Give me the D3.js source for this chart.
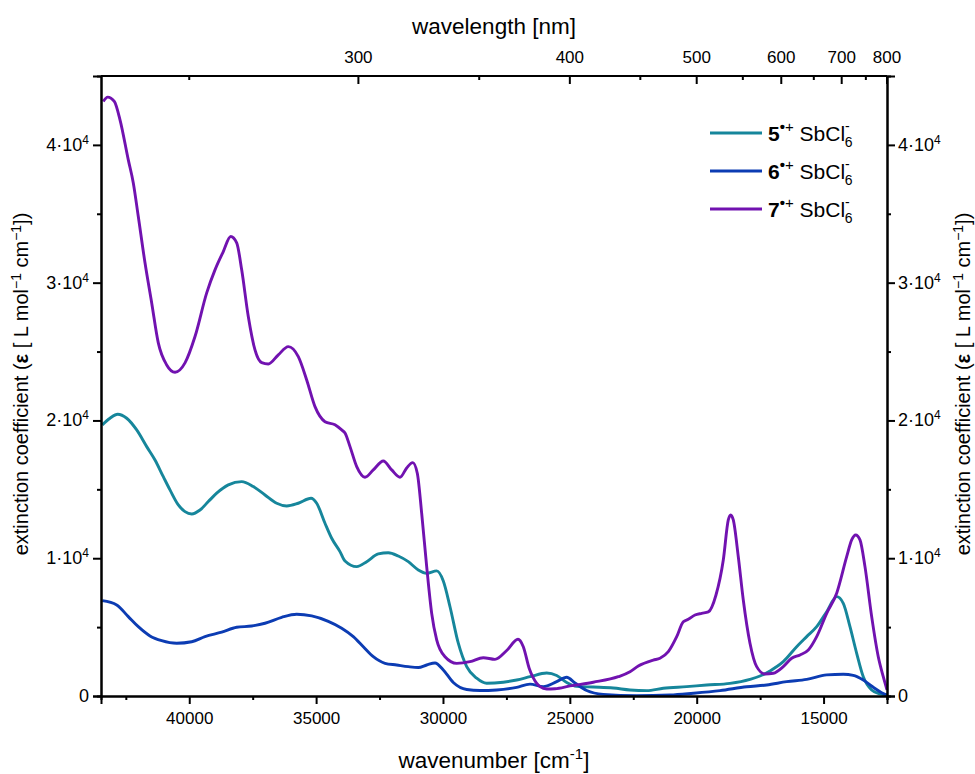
<!DOCTYPE html>
<html>
<head>
<meta charset="utf-8">
<script src="https://cdn.jsdelivr.net/npm/d3@7"></script>
<style>
  body { margin: 0; background: #fff; }
  svg text { font-family: "Liberation Sans", Arial, sans-serif; fill: #000; }
</style>
</head>
<body>
<div id="chart"></div>
<script>
// wavenumber [cm-1] / extinction coefficient
const wn5 = [43427, 43123, 42820, 42465, 42071, 41677, 41350, 41023, 40759, 40431, 40167, 39903, 39576, 39249, 38918, 38461, 37933, 37476, 37014, 36553, 36159, 35702, 35201, 34977, 34650, 34386, 34059, 33861, 33400, 33006, 32549, 32155, 31761, 31367, 30973, 30642, 30248, 29987, 29723, 29396, 29065, 28671, 28277, 27623, 27094, 26570, 25912, 25518, 25124, 24730, 24076, 23288, 22629, 21971, 21317, 20395, 19607, 18688, 17900, 17506, 17112, 16588, 16060, 15665, 15271, 14877, 14483, 14223, 13959, 13695, 13435, 13104, 12777, 12500];
const eps5 = [19680, 20160, 20450, 20160, 19310, 18100, 17130, 15920, 14960, 13870, 13380, 13210, 13500, 14110, 14720, 15320, 15560, 15200, 14590, 13990, 13790, 13990, 14350, 13990, 12540, 11450, 10480, 9800, 9390, 9750, 10310, 10400, 10160, 9750, 9150, 8910, 9080, 8350, 6480, 3830, 2130, 1290, 920, 1000, 1160, 1400, 1670, 1490, 980, 700, 650, 580, 440, 390, 560, 680, 800, 920, 1210, 1450, 1820, 2490, 3580, 4310, 5030, 6120, 7210, 6730, 5030, 3100, 1400, 440, 150, 70];

const wn6 = [43427, 42859, 42402, 42008, 41547, 41086, 40495, 39903, 39379, 38721, 38130, 37539, 37014, 36356, 35765, 35174, 34520, 33992, 33534, 33140, 32746, 32285, 31824, 31367, 30973, 30642, 30314, 29987, 29593, 29065, 28541, 27883, 27094, 26570, 26046, 25518, 25124, 24797, 24336, 23682, 22365, 21053, 20134, 19082, 18030, 17241, 16453, 15665, 14877, 14223, 13829, 13435, 13041, 12710, 12500];
const eps6 = [6920, 6610, 5760, 5030, 4360, 4020, 3830, 3940, 4310, 4630, 4990, 5080, 5280, 5710, 5930, 5810, 5420, 4920, 4310, 3580, 2850, 2370, 2250, 2130, 2070, 2250, 2400, 1890, 980, 470, 400, 440, 630, 860, 680, 1040, 1360, 940, 400, 120, 30, 70, 200, 390, 670, 800, 1040, 1210, 1530, 1580, 1500, 1160, 630, 240, 70];

const wn7 = [43387, 43214, 42954, 42729, 42402, 42205, 42008, 41744, 41480, 41220, 40889, 40561, 40167, 39773, 39312, 38985, 38658, 38366, 38130, 37933, 37673, 37409, 37144, 36884, 36490, 36096, 35702, 35371, 35044, 34650, 34256, 33992, 33861, 33664, 33400, 33073, 32746, 32352, 32021, 31694, 31430, 31193, 31012, 30839, 30642, 30445, 30248, 29920, 29459, 28935, 28411, 27950, 27489, 27043, 26834, 26600, 26440, 26176, 25912, 25585, 24994, 24076, 23090, 22629, 22302, 21711, 21447, 21119, 20788, 20528, 20331, 20067, 19803, 19543, 19240, 18952, 18755, 18660, 18558, 18361, 18164, 17900, 17636, 17309, 16982, 16588, 16256, 15929, 15602, 15271, 14877, 14483, 14089, 13892, 13734, 13565, 13368, 13104, 12844, 12647, 12500];
const eps7 = [43150, 43470, 43150, 41820, 38910, 37240, 34800, 31440, 28530, 25630, 24030, 23500, 24180, 26090, 29260, 30930, 32260, 33350, 32890, 30930, 27540, 25120, 24200, 24100, 24760, 25360, 24630, 22940, 21000, 19910, 19680, 19310, 19090, 18100, 16650, 15880, 16410, 17060, 16410, 15880, 16550, 16940, 16170, 13260, 9390, 6000, 4070, 2850, 2370, 2490, 2780, 2660, 3300, 4120, 3580, 2000, 1310, 680, 510, 530, 730, 1000, 1400, 1760, 2180, 2610, 2740, 3220, 4310, 5390, 5570, 5880, 6000, 6100, 7330, 9870, 12780, 13140, 12780, 10110, 6970, 3830, 2130, 1600, 1650, 2130, 2740, 2980, 3340, 4310, 6000, 7460, 10110, 11330, 11690, 11330, 9390, 5760, 2850, 1400, 440];

const seriesNames = ["5", "6", "7"];
const seriesColors = ["#16869b", "#0c3cb3", "#7112b0"];

const bottomTicks = [40000, 35000, 30000, 25000, 20000, 15000];
const bottomMinor = [42500, 37500, 32500, 27500, 22500, 17500, 12500];
const topLabels = [300, 400, 500, 600, 700, 800];
const topMinor = [250, 350, 450, 550, 650, 750];
const yTicks = [0, 10000, 20000, 30000, 40000];
const yMinor = [5000, 15000, 25000, 35000];

class SpectraChart {
  constructor(_config) {
    this.config = {
      parentElement: _config.parentElement,
      containerWidth: _config.containerWidth || 975,
      containerHeight: _config.containerHeight || 774,
      margin: { top: 76, bottom: 78, right: 88, left: 101 }
    }
    this.data = _config.data;
    this.initVis();
  }

  initVis() {
    let vis = this;
    vis.width = vis.config.containerWidth - vis.config.margin.left - vis.config.margin.right;
    vis.height = vis.config.containerHeight - vis.config.margin.top - vis.config.margin.bottom;

    vis.svg = d3.select(vis.config.parentElement).append("svg")
      .attr("width", vis.config.containerWidth)
      .attr("height", vis.config.containerHeight);

    vis.chart = vis.svg.append("g")
      .attr("transform", `translate(${vis.config.margin.left},${vis.config.margin.top})`);

    vis.xScale = d3.scaleLinear().domain([43478, 12500]).range([0, vis.width]);
    vis.yScale = d3.scaleLinear().domain([0, 45000]).range([vis.height, 0]);

    vis.renderVis();
  }

  renderVis() {
    let vis = this;
    const fmt = (g, d) => {
      if (d === 0) { g.text("0"); return; }
      g.text(`${d / 10000}\u00b710`);
      g.append("tspan").attr("dy", -7).attr("font-size", 12).text("4");
    };

    // curves
    const line = d3.line()
      .x(d => vis.xScale(d[0]))
      .y(d => vis.yScale(d[1]))
      .curve(d3.curveMonotoneX);

    vis.chart.selectAll(".spectrum").data(vis.data).join("path")
      .attr("class", "spectrum")
      .attr("fill", "none")
      .attr("stroke", d => d.color)
      .attr("stroke-width", 2.9)
      .attr("stroke-linejoin", "round")
      .attr("d", d => line(d.values));

    // bottom axis
    const xAxis = d3.axisBottom(vis.xScale).tickValues(bottomTicks).tickSize(8).tickPadding(8).tickFormat(d3.format("d"));
    const gx = vis.chart.append("g").attr("transform", `translate(0,${vis.height})`).call(xAxis);
    gx.append("g").call(d3.axisBottom(vis.xScale).tickValues(bottomMinor).tickSize(4).tickFormat(""));

    // top axis (wavelength), ticks point inward
    const gt = vis.chart.append("g");
    gt.append("line").attr("x1", 0).attr("x2", vis.width).attr("stroke", "#000").attr("stroke-width", 2);
    gt.selectAll(".tmaj").data(topLabels).join("line")
      .attr("x1", d => vis.xScale(1e7 / d)).attr("x2", d => vis.xScale(1e7 / d))
      .attr("y1", 0).attr("y2", 8).attr("stroke", "#000").attr("stroke-width", 2);
    gt.selectAll(".tmin").data(topMinor).join("line")
      .attr("x1", d => vis.xScale(1e7 / d)).attr("x2", d => vis.xScale(1e7 / d))
      .attr("y1", 0).attr("y2", 4).attr("stroke", "#000").attr("stroke-width", 2);
    gt.selectAll(".tlab").data(topLabels).join("text")
      .attr("x", d => vis.xScale(1e7 / d)).attr("y", -13)
      .attr("text-anchor", "middle").attr("font-size", 17)
      .text(d => d);

    // left / right axes
    const yl = vis.chart.append("g").call(d3.axisLeft(vis.yScale).tickValues(yTicks).tickSize(8).tickFormat(""));
    yl.append("g").call(d3.axisLeft(vis.yScale).tickValues(yMinor).tickSize(4).tickFormat(""));
    const yr = vis.chart.append("g").attr("transform", `translate(${vis.width},0)`)
      .call(d3.axisRight(vis.yScale).tickValues(yTicks).tickSize(8).tickFormat(""));
    yr.append("g").call(d3.axisRight(vis.yScale).tickValues(yMinor).tickSize(4).tickFormat(""));

    yl.selectAll(".ylab").data(yTicks).join("text")
      .attr("x", -12).attr("y", d => vis.yScale(d) + 6)
      .attr("text-anchor", "end").attr("font-size", 18)
      .each(function(d) { fmt(d3.select(this), d); });
    yr.selectAll(".ylab").data(yTicks).join("text")
      .attr("x", 11).attr("y", d => vis.yScale(d) + 6)
      .attr("text-anchor", "start").attr("font-size", 18)
      .each(function(d) { fmt(d3.select(this), d); });

    vis.chart.selectAll(".domain").attr("stroke-width", 2);
    vis.chart.selectAll(".tick line").attr("stroke-width", 2);
    gx.selectAll(".tick text").attr("font-size", 17).attr("font-family", null);

    // axis titles
    const bt = vis.svg.append("text").attr("x", 494).attr("y", 768).attr("text-anchor", "middle").attr("font-size", 22.5);
    bt.append("tspan").text("wavenumber [cm");
    bt.append("tspan").attr("dy", -9).attr("font-size", 15).text("-1");
    bt.append("tspan").attr("dy", 9).text("]");

    vis.svg.append("text").attr("x", 494).attr("y", 34).attr("text-anchor", "middle").attr("font-size", 22.5)
      .text("wavelength [nm]");

    const yTitle = (x) => {
      const t = vis.svg.append("text")
        .attr("transform", `translate(${x},${vis.config.margin.top + vis.height / 2 - 2}) rotate(-90)`)
        .attr("text-anchor", "middle").attr("font-size", 20);
      t.append("tspan").text("extinction coefficient (");
      t.append("tspan").attr("font-weight", "bold").text("\u03b5");
      t.append("tspan").text(" [ L mol");
      t.append("tspan").attr("dy", -7).attr("font-size", 14).text("\u22121");
      t.append("tspan").attr("dy", 7).text(" cm");
      t.append("tspan").attr("dy", -7).attr("font-size", 14).text("\u22121");
      t.append("tspan").attr("dy", 7).text("])");
    };
    yTitle(28);
    yTitle(970);

    // legend
    const legend = vis.svg.append("g").attr("transform", "translate(710,133)");
    const items = legend.selectAll(".item").data(vis.data).join("g")
      .attr("transform", (d, i) => `translate(0,${i * 38})`);
    items.append("line").attr("x1", 0).attr("x2", 52)
      .attr("stroke", d => d.color).attr("stroke-width", 2.9);
    const lt = items.append("text").attr("x", 58).attr("y", 8).attr("font-size", 21);
    lt.append("tspan").attr("font-weight", "bold").text(d => d.name);
    lt.append("tspan").attr("dy", -9).attr("font-size", 15).attr("font-weight", "bold").text("\u2022");
    lt.append("tspan").attr("font-size", 15).text("+");
    lt.append("tspan").attr("dy", 9).text(" SbCl");
    lt.append("tspan").attr("dy", -10).attr("font-size", 14).text("-");
    lt.append("tspan").attr("dx", -5).attr("dy", 16).attr("font-size", 14).text("6");
  }
}

const data = seriesNames.map((name, i) => {
  const wn = [wn5, wn6, wn7][i];
  const eps = [eps5, eps6, eps7][i];
  return { name: name, color: seriesColors[i], values: wn.map((w, j) => [w, eps[j]]) };
});

new SpectraChart({ parentElement: "#chart", data: data });
</script>
</body>
</html>
